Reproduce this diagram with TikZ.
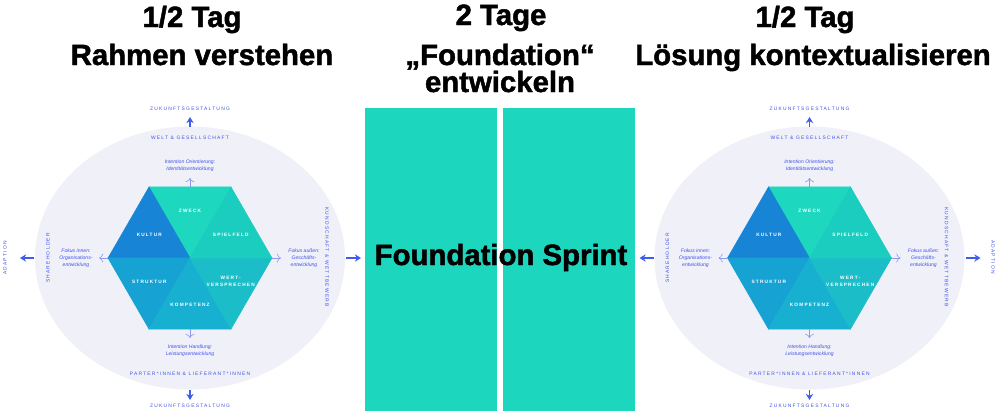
\documentclass[tikz,border=0pt]{standalone}
\usepackage{fontspec}
\setmainfont{Liberation Sans}
\newfontfamily\capsfont{Liberation Sans}[LetterSpace=25]
\newfontfamily\heavyfont{Liberation Sans}[FakeBold=1.6]
\usetikzlibrary{calc,arrows.meta}

\definecolor{textblue}{HTML}{4053E6}
\definecolor{arrowblue}{HTML}{3E5CF0}
\definecolor{thinblue}{HTML}{8E9AEE}
\definecolor{ellfill}{HTML}{F0F0F9}
\definecolor{sprintgreen}{HTML}{1DD6BE}
\definecolor{zweck}{HTML}{1DD8BF}
\definecolor{kultur}{HTML}{1784D6}
\definecolor{struktur}{HTML}{16A2D2}
\definecolor{kompetenz}{HTML}{18B0D0}
\definecolor{wert}{HTML}{1BBEC8}
\definecolor{spielfeld}{HTML}{1BCDBF}

\tikzset{
  title/.style={anchor=base,inner sep=0pt,font=\heavyfont\fontsize{16.7}{20}\selectfont\bfseries},
  outerlabel/.style={text=textblue,inner sep=0pt,font=\capsfont\fontsize{2.8}{3.4}\selectfont},
  innernote/.style={text=textblue,inner sep=0pt,align=center,font=\fontsize{2.9}{4}\selectfont\itshape},
  hexlabel/.style={text=white,inner sep=0pt,align=center,font=\capsfont\fontsize{2.7}{3.6}\selectfont\bfseries},
  bigarrow/.style={arrowblue,line width=0.85pt,-{Stealth[length=3.5pt,width=4.2pt]}},
  smallarrow/.style={thinblue,line width=0.35pt,->},
}

\begin{document}
\begin{tikzpicture}[x=0.02cm,y=-0.02cm]
    \useasboundingbox (0,0) rectangle (1000,414);

    \node[title] (tagL) at (192,27) {1/2 Tag};
    \node[title] (rahmen) at (202,65) {Rahmen verstehen};
    \node[title] (tage) at (501,25) {2 Tage};
    \node[title] (found) at (500,65) {„Foundation“};
    \node[title] (entw) at (500,92) {entwickeln};
    \node[title] (tagR) at (805,27) {1/2 Tag};
    \node[title] (loesung) at (813,65) {Lösung kontextualisieren};

    \foreach \cx/\side in {190/L,809.5/R}{
    \coordinate (c\side) at (\cx,258);
    \fill[ellfill] (c\side) ellipse [x radius=155,y radius=131.5];

    \foreach \a/\col/\lab [count=\i] in {90/zweck/ZWECK,150/kultur/KULTUR,210/struktur/STRUKTUR,270/kompetenz/KOMPETENZ,330/wert/{WERT-\\VERSPRECHEN},30/spielfeld/SPIELFELD}{
    \filldraw[\col,line width=0.3pt] (c\side) -- ($(c\side)+(-\a+30:82)$) -- ($(c\side)+(-\a-30:82)$) -- cycle;
    \node[hexlabel] (hex\side\i) at ($(c\side)+(-\a:47)$) {\lab};
    }

    \node[outerlabel] (futtop\side) at (\cx,109) {ZUKUNFTSGESTALTUNG};
    \node[outerlabel] (welt\side) at (\cx,138) {WELT \& GESELLSCHAFT};
    \node[outerlabel] (partner\side) at (\cx,374) {PARTER*INNEN \& LIEFERANT*INNEN};
    \node[outerlabel] (futbot\side) at (\cx,406) {ZUKUNFTSGESTALTUNG};
    \node[outerlabel,rotate=90] (share\side) at (\cx-142,258) {SHAREHOLDER};
    \node[outerlabel,rotate=-90] (kund\side) at (\cx+137,257) {KUNDSCHAFT \& WETTBEWERB};

    \node[innernote] (orient\side) at (\cx,165.5) {Intention Orientierung:\\Identitätsentwicklung};
    \node[innernote] (innen\side) at (\cx-114,258) {Fokus innen:\\Organisations-\\entwicklung};
    \node[innernote] (aussen\side) at (\cx+114,258) {Fokus außen:\\Geschäfts-\\entwicklung};
    \node[innernote] (handl\side) at (\cx,351) {Intention Handlung:\\Leistungsentwicklung};

    \coordinate (hN\side) at (\cx,187);    \coordinate (tN\side) at (\cx,178);
    \coordinate (hS\side) at (\cx,329);    \coordinate (tS\side) at (\cx,338);
    \coordinate (hW\side) at (\cx-82,258); \coordinate (tW\side) at (\cx-91,258);
    \coordinate (hE\side) at (\cx+82,258); \coordinate (tE\side) at (\cx+91,258);
    \draw[smallarrow] (hN\side) -- (tN\side);
    \draw[smallarrow] (hS\side) -- (tS\side);
    \draw[smallarrow] (hW\side) -- (tW\side);
    \draw[smallarrow] (hE\side) -- (tE\side);

    \coordinate (eN\side) at (\cx,127);     \coordinate (aN\side) at (\cx,117);
    \coordinate (eS\side) at (\cx,390);     \coordinate (aS\side) at (\cx,400);
    \coordinate (eW\side) at (\cx-156,258); \coordinate (aW\side) at (\cx-170,258);
    \coordinate (eE\side) at (\cx+156,258); \coordinate (aE\side) at (\cx+171,258);
    \draw[bigarrow] (eN\side) -- (aN\side);
    \draw[bigarrow] (eS\side) -- (aS\side);
    \draw[bigarrow] (eW\side) -- (aW\side);
    \draw[bigarrow] (eE\side) -- (aE\side);
    }

    \node[outerlabel,rotate=90] (adaptL) at (5,258) {ADAPTION};
    \node[outerlabel,rotate=-90] (adaptR) at (993,257) {ADAPTION};

    \fill[sprintgreen] (365,108) rectangle (497,411);
    \fill[sprintgreen] (503,108) rectangle (635,411);
    \node[title] (sprint) at (501,265) {Foundation Sprint};
\end{tikzpicture}
\end{document}
